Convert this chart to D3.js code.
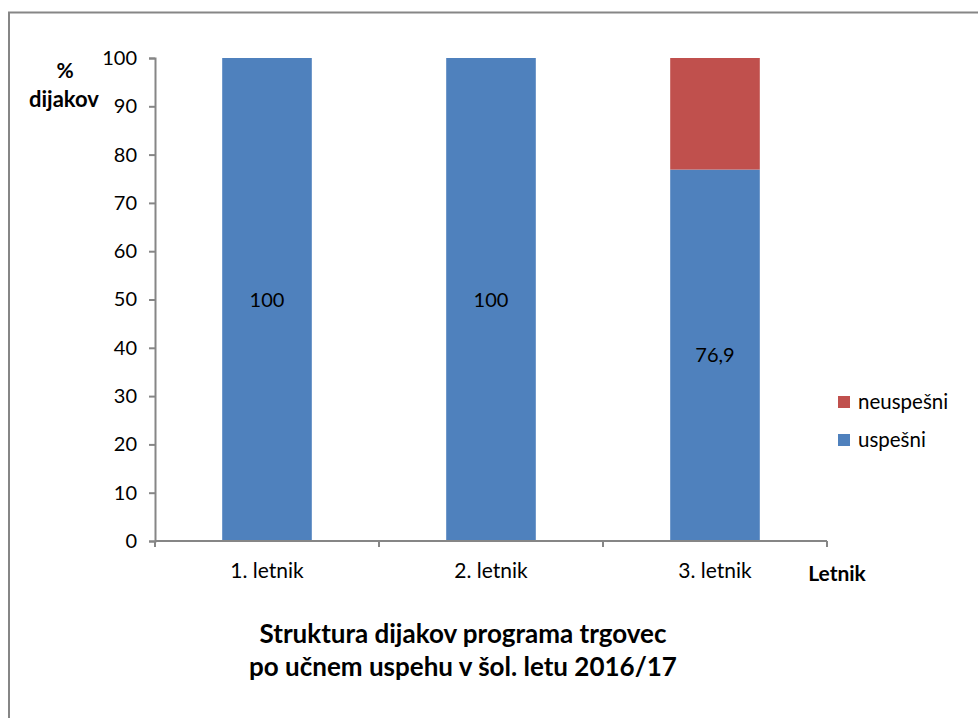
<!DOCTYPE html>
<html>
<head>
<meta charset="utf-8">
<script src="https://cdn.jsdelivr.net/npm/d3@7"></script>
<style>
  html, body { margin: 0; padding: 0; background: #fff; }
  svg { display: block; font-family: Lato, "Open Sans", sans-serif; }
</style>
</head>
<body>
<svg id="chart" width="978" height="718"></svg>
<script>
// ---- data ----
const categories = ["1. letnik", "2. letnik", "3. letnik"];
const uspesni = [100, 100, 76.9];
const neuspesni = [0, 0, 23.1];
const labels = ["100", "100", "76,9"];
const yTicks = [0, 10, 20, 30, 40, 50, 60, 70, 80, 90, 100];
const seriesNames = ["uspešni", "neuspešni"];
const seriesColors = ["#4F81BD", "#C0504D"];
const titleLines = ["Struktura dijakov programa trgovec", "po učnem uspehu v šol. letu 2016/17"];

const svg = d3.select("#chart");

// frame
svg.append("rect")
  .attr("x", 9).attr("y", 12.5).attr("width", 1000).attr("height", 720)
  .attr("fill", "none").attr("stroke", "#868686").attr("stroke-width", 2);

const plot = { left: 155, right: 827, top: 58, bottom: 541 };

const x = d3.scaleBand().domain(categories).range([plot.left, plot.right]).paddingInner(0).paddingOuter(0);
const y = d3.scaleLinear().domain([0, 100]).range([plot.bottom, plot.top]);

const rows = categories.map((c, i) => ({ cat: c, "uspešni": uspesni[i], "neuspešni": neuspesni[i] }));
const stack = d3.stack().keys(seriesNames)(rows);

const barW = x.bandwidth() * 0.4;
const g = svg.append("g");
stack.forEach((layer, li) => {
  g.selectAll(null).data(layer.filter(d => d[1] - d[0] > 0)).enter().append("rect")
    .attr("x", d => x(d.data.cat) + (x.bandwidth() - barW) / 2)
    .attr("width", barW)
    .attr("y", d => y(d[1]))
    .attr("height", d => y(d[0]) - y(d[1]))
    .attr("fill", seriesColors[li]);
});

// data labels (uspešni)
g.selectAll(null).data(rows).enter().append("text")
  .attr("x", d => x(d.cat) + x.bandwidth() / 2)
  .attr("y", d => y(d["uspešni"] / 2))
  .attr("dy", "0.35em")
  .attr("text-anchor", "middle")
  .attr("font-size", 20)
  .attr("fill", "#000")
  .text((d, i) => labels[i]);

// y axis
const yAxis = d3.axisLeft(y).tickValues(yTicks).tickSize(6).tickPadding(12).tickFormat(d3.format("d"));
const ya = svg.append("g").attr("transform", `translate(${plot.left},0)`).call(yAxis);
ya.select(".domain").attr("stroke", "#868686").attr("stroke-width", 2);
ya.selectAll(".tick line").attr("stroke", "#868686").attr("stroke-width", 2);
ya.selectAll(".tick text").attr("font-size", 20).attr("fill", "#000").attr("font-family", "Lato, sans-serif");

// x axis
const xAxis = d3.axisBottom(x).tickSize(0).tickPadding(22);
const xa = svg.append("g").attr("transform", `translate(0,${plot.bottom})`).call(xAxis);
xa.select(".domain").attr("stroke", "#868686").attr("stroke-width", 2).attr("d", `M${plot.left},0H${plot.right}`);
xa.selectAll(".tick text").attr("font-size", 21).attr("fill", "#000").attr("font-family", "Lato, sans-serif");
// boundary ticks
const bounds = categories.map(c => x(c)).concat([x(categories[categories.length - 1]) + x.bandwidth()]);
xa.selectAll(".bound").data(bounds).enter().append("line")
  .attr("x1", d => d).attr("x2", d => d).attr("y1", 0).attr("y2", 6)
  .attr("stroke", "#868686").attr("stroke-width", 2);

// axis titles
svg.append("text").attr("x", 65).attr("y", 78).attr("text-anchor", "middle")
  .attr("font-size", 21).attr("font-weight", "bold").text("%");
svg.append("text").attr("x", 64).attr("y", 107).attr("text-anchor", "middle")
  .attr("font-size", 22).attr("font-weight", "bold").text("dijakov");
svg.append("text").attr("x", 837).attr("y", 581).attr("text-anchor", "middle")
  .attr("font-size", 21).attr("font-weight", "bold").text("Letnik");

// legend
const legendItems = [
  { name: seriesNames[1], color: seriesColors[1] },
  { name: seriesNames[0], color: seriesColors[0] }
];
const lg = svg.append("g").selectAll("g").data(legendItems).enter().append("g")
  .attr("transform", (d, i) => `translate(838,${396 + i * 38})`);
lg.append("rect").attr("width", 12).attr("height", 12).attr("fill", d => d.color);
lg.append("text").attr("x", 20).attr("y", 6).attr("dy", "0.35em")
  .attr("font-size", 20.5).text(d => d.name);

// title
svg.append("g").selectAll("text").data(titleLines).enter().append("text")
  .attr("x", 463).attr("y", (d, i) => 643 + i * 33)
  .attr("text-anchor", "middle").attr("font-size", 26).attr("font-weight", "bold")
  .text(d => d);
</script>
</body>
</html>
